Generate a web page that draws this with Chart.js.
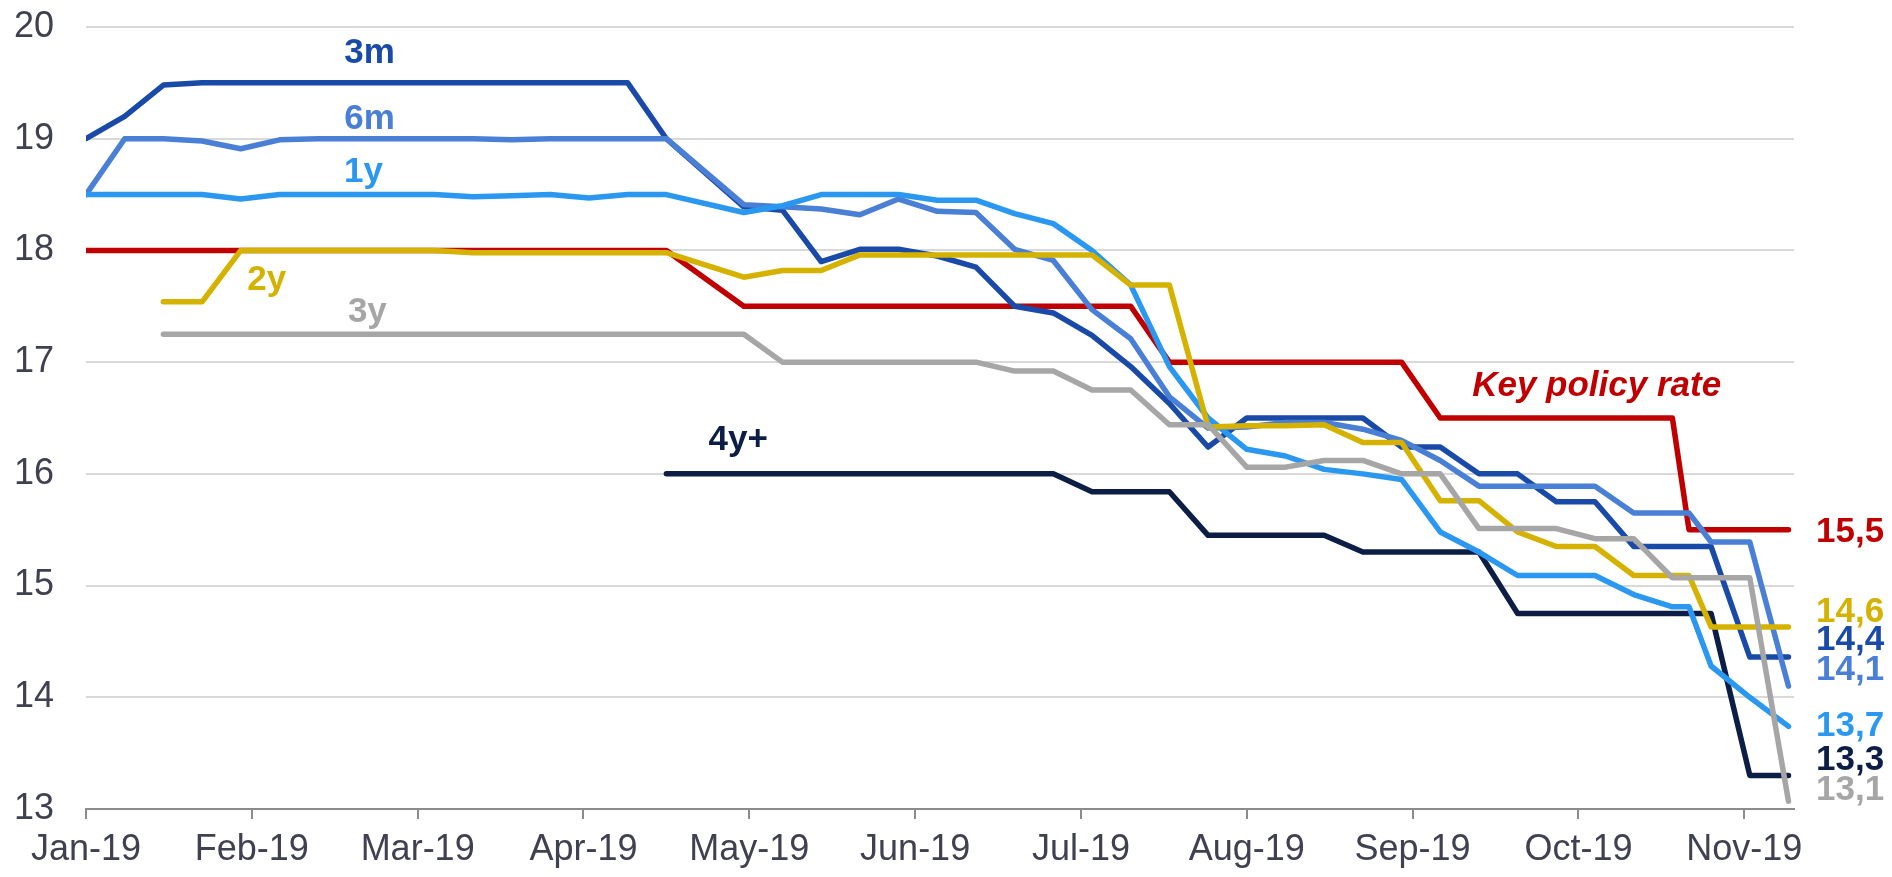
<!DOCTYPE html>
<html>
<head>
<meta charset="utf-8">
<script src="https://cdn.jsdelivr.net/npm/chart.js@4.4.1/dist/chart.umd.min.js"></script>
<style>
html,body{margin:0;padding:0;background:#ffffff;}
#wrap{width:1892px;height:877px;position:relative;}
</style>
</head>
<body>
<div id="wrap"><canvas id="c"></canvas></div>
<script>
// ---------- DATA ----------
const dates = [
  '2019-01-01','2019-01-08','2019-01-15','2019-01-22','2019-01-29',
  '2019-02-05','2019-02-12','2019-02-19','2019-02-26',
  '2019-03-05','2019-03-12','2019-03-19','2019-03-26',
  '2019-04-02','2019-04-09','2019-04-16','2019-04-30',
  '2019-05-07','2019-05-14','2019-05-21','2019-05-28',
  '2019-06-04','2019-06-11','2019-06-18','2019-06-25',
  '2019-07-02','2019-07-09','2019-07-16','2019-07-23','2019-07-30',
  '2019-08-06','2019-08-13','2019-08-20','2019-08-27',
  '2019-09-03','2019-09-10','2019-09-17','2019-09-24',
  '2019-10-01','2019-10-08','2019-10-15','2019-10-18','2019-10-22','2019-10-29',
  '2019-11-05'
];

const keyPolicyRate = [18,18,18,18,18,18,18,18,18,18,18,18,18,18,18,18,
  17.5,17.5,17.5,17.5,17.5,17.5,17.5,17.5,17.5,17.5,17.5,
  17,17,17,17,17,17,17,
  16.5,16.5,16.5,16.5,16.5,16.5,16.5,
  15.5,15.5,15.5,15.5];

const yield3m = [19.0,19.2,19.48,19.5,19.5,19.5,19.5,19.5,19.5,19.5,19.5,19.5,19.5,19.5,19.5,19.0,
  18.39,18.36,17.90,18.01,18.01,17.95,17.85,17.50,17.44,17.24,16.96,16.63,16.24,16.50,16.50,
  16.50,16.50,16.24,16.24,16.0,16.0,15.75,15.75,15.35,15.35,15.35,15.35,14.36,14.36];

const yield6m = [18.5,19.0,19.0,18.98,18.91,18.99,19.0,19.0,19.0,19.0,19.0,18.99,19.0,19.0,19.0,19.0,
  18.41,18.39,18.37,18.32,18.46,18.35,18.34,18.01,17.91,17.47,17.21,16.69,16.41,16.42,16.46,
  16.46,16.40,16.30,16.12,15.89,15.89,15.89,15.89,15.65,15.65,15.65,15.39,15.39,14.10];

const yield1y = [18.5,18.5,18.5,18.5,18.46,18.5,18.5,18.5,18.5,18.5,18.48,18.49,18.5,18.47,18.5,18.5,
  18.34,18.40,18.50,18.50,18.50,18.45,18.45,18.33,18.24,18.0,17.69,16.96,16.50,16.22,16.16,
  16.04,16.0,15.95,15.48,15.30,15.09,15.09,15.09,14.92,14.81,14.81,14.28,14.0,13.74];

const yield2y = [null,null,17.54,17.54,18.0,18.0,18.0,18.0,18.0,18.0,17.98,17.98,17.98,17.98,17.98,17.98,
  17.76,17.82,17.82,17.96,17.96,17.96,17.96,17.96,17.96,17.96,17.69,17.69,16.42,16.43,16.43,
  16.44,16.28,16.28,15.76,15.76,15.48,15.35,15.35,15.09,15.09,15.09,14.63,14.63,14.63];

const yield3y = [null,null,17.25,17.25,17.25,17.25,17.25,17.25,17.25,17.25,17.25,17.25,17.25,17.25,17.25,17.25,
  17.25,17.0,17.0,17.0,17.0,17.0,17.0,16.92,16.92,16.75,16.75,16.44,16.44,16.06,16.06,
  16.12,16.12,16.0,16.0,15.51,15.51,15.51,15.42,15.42,15.07,15.07,15.07,15.07,13.07];

const yield4yPlus = [null,null,null,null,null,null,null,null,null,null,null,null,null,null,null,16.0,
  16.0,16.0,16.0,16.0,16.0,16.0,16.0,16.0,16.0,15.84,15.84,15.84,15.45,15.45,15.45,
  15.45,15.30,15.30,15.30,15.30,14.75,14.75,14.75,14.75,14.75,14.75,14.75,13.30,13.30];

const seriesNames = ['Key policy rate','3m','6m','1y','2y','3y','4y+'];
const xTickDays = [0,30,60,90,120,150,180,210,240,270,300];
const xTickLabels = ['Jan-19','Feb-19','Mar-19','Apr-19','May-19','Jun-19','Jul-19','Aug-19','Sep-19','Oct-19','Nov-19'];
const yTicks = [13,14,15,16,17,18,19,20];

// ---------- STYLE / LAYOUT ----------
const seriesValues = [keyPolicyRate, yield3m, yield6m, yield1y, yield2y, yield3y, yield4yPlus];
const seriesColors = ['#c00000','#1a4aa8','#4a7fd6','#2a98f0','#d6b200','#a6a6a6','#0c1e45'];
const drawOrder    = [7, 5, 4, 3, 2, 1, 6];   // lower = drawn on top
// in-plot tag anchors (axis units: days since 1 Jan 2019, percent)
const tagAnchors = [
  {day: 273.3, val: 16.78, italic: true},
  {day: 51.3,  val: 19.76},
  {day: 51.3,  val: 19.17},
  {day: 50.2,  val: 18.70},
  {day: 32.7,  val: 17.73},
  {day: 50.9,  val: 17.45},
  {day: 118.0, val: 16.30}
];
// right-hand end-value tags (vertical anchor in percent)
const endTagVal = [15.48, 14.76, 14.51, 14.24, 13.74, 13.44, 13.17];
const endTagOrder = [0, 4, 1, 2, 3, 6, 5];

const FONT = '"Liberation Sans", Arial, sans-serif';
const TEXT = '#404150';

const day0 = Date.parse('2019-01-01T00:00:00Z');
const dayOf = d => (Date.parse(d + 'T00:00:00Z') - day0) / 86400000;
const xs = dates.map(dayOf);

const datasets = seriesNames.map((name, k) => ({
  label: name,
  data: xs.map((x, i) => ({x: x, y: seriesValues[k][i]})),
  borderColor: seriesColors[k],
  backgroundColor: seriesColors[k],
  borderWidth: 5.5,
  pointRadius: 0,
  pointHoverRadius: 0,
  fill: false,
  tension: 0,
  spanGaps: false,
  borderCapStyle: 'round',
  borderJoinStyle: 'round',
  order: drawOrder[k]
}));

const fmt = v => v.toFixed(1).replace('.', ',');

const tagPlugin = {
  id: 'tags',
  afterDatasetsDraw(chart) {
    const {ctx, chartArea} = chart;
    const xS = chart.scales.x, yS = chart.scales.y;
    ctx.save();
    ctx.textBaseline = 'middle';
    seriesNames.forEach((name, k) => {
      const a = tagAnchors[k];
      ctx.font = (a.italic ? 'italic ' : '') + 'bold 35px ' + FONT;
      ctx.fillStyle = seriesColors[k];
      ctx.textAlign = 'center';
      ctx.fillText(name, xS.getPixelForValue(a.day), yS.getPixelForValue(a.val));
    });
    ctx.font = 'bold 35px ' + FONT;
    ctx.textAlign = 'left';
    endTagOrder.forEach((k, j) => {
      const vals = seriesValues[k];
      const last = vals[vals.length - 1];
      ctx.fillStyle = seriesColors[k];
      ctx.fillText(fmt(last), chartArea.right + 22, yS.getPixelForValue(endTagVal[j]));
    });
    ctx.restore();
  }
};

new Chart(document.getElementById('c'), {
  type: 'line',
  data: {datasets},
  plugins: [tagPlugin],
  options: {
    responsive: true,
    maintainAspectRatio: false,
    animation: false,
    events: [],
    layout: {padding: {top: 0, right: 98, left: 0, bottom: 0}},
    plugins: {legend: {display: false}, tooltip: {enabled: false}},
    scales: {
      x: {
        type: 'linear',
        min: 0,
        max: 309,
        afterFit: s => { s.height = 68; },
        afterBuildTicks: s => { s.ticks = xTickDays.map(v => ({value: v})); },
        grid: {drawOnChartArea: false, drawTicks: true, tickLength: 10, color: '#8c8c8c', lineWidth: 2},
        border: {display: true, color: '#8c8c8c', width: 2},
        ticks: {
          autoSkip: false, maxRotation: 0, padding: 9,
          color: TEXT, font: {family: FONT, size: 36},
          callback: v => xTickLabels[xTickDays.indexOf(v)]
        }
      },
      y: {
        min: 13,
        max: 20,
        afterFit: s => { s.width = 86; s.paddingTop = 27; s.paddingBottom = 0; },
        afterBuildTicks: s => { s.ticks = yTicks.map(v => ({value: v})); },
        grid: {
          drawTicks: false,
          color: c => (c.tick && c.tick.value === 13) ? 'rgba(0,0,0,0)' : '#d9d9d9',
          lineWidth: 2
        },
        border: {display: false},
        ticks: {padding: 32, color: TEXT, font: {family: FONT, size: 36}}
      }
    }
  }
});
</script>
</body>
</html>
